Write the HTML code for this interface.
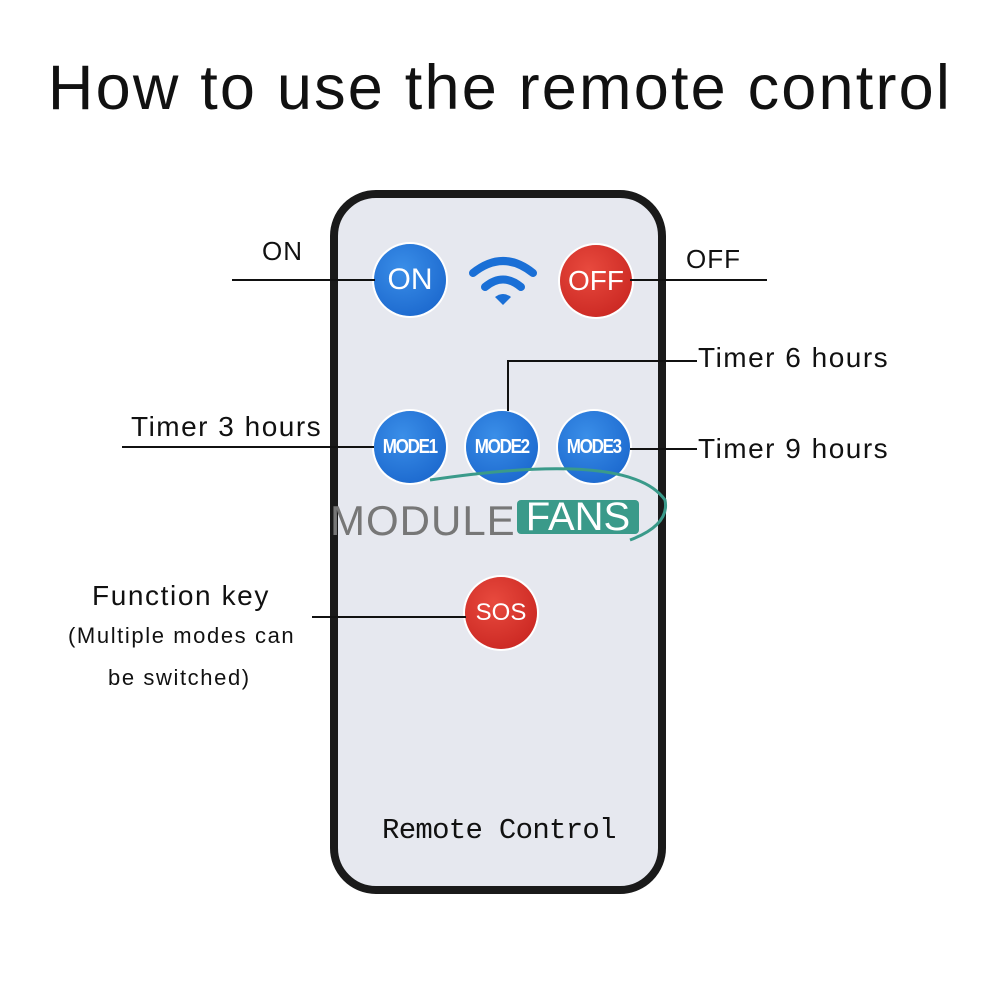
<!DOCTYPE html>
<html><head><style>
body{margin:0;width:1000px;height:1000px;background:#fff;position:relative;overflow:hidden;font-family:"Liberation Sans",sans-serif}
.t{position:absolute;color:#111;white-space:nowrap}
.l{position:absolute;background:#111}
.b{position:absolute;width:72px;height:72px;border-radius:50%;color:#fff;display:flex;align-items:center;justify-content:center;font-weight:bold;box-shadow:0 0 0 2px #fff}
.blue{background:radial-gradient(circle at 40% 35%,#3a8ee8,#1560c8)}
.red{background:radial-gradient(circle at 40% 35%,#e84a3e,#c4201c)}
.m{font-size:20px;letter-spacing:-1.5px;font-weight:bold;transform:scaleX(0.85)}
</style></head><body>
<div class="t" style="left:0;width:1000px;text-align:center;top:52px;font-size:63px;letter-spacing:2.2px">How to use the remote control</div>
<div style="position:absolute;left:330px;top:190px;width:320px;height:688px;border:8px solid #1a1a1a;border-radius:46px;background:#e6e8ef"></div>
<div class="b blue" style="left:374px;top:244px;font-size:30px;font-weight:normal">ON</div>
<div class="b red" style="left:560px;top:245px;font-size:28px;font-weight:normal">OFF</div>
<svg style="position:absolute;left:468px;top:255px" width="70" height="55" viewBox="0 0 70 55"><path d="M5 18 Q35 -6 65 18" stroke="#1a6fd6" stroke-width="8" fill="none" stroke-linecap="round"/><path d="M17 32 Q35 17 53 32" stroke="#1a6fd6" stroke-width="8" fill="none" stroke-linecap="round"/><path d="M27 42 L35 50 L43 42 Q35 36 27 42Z" fill="#1a6fd6"/></svg>
<div class="b blue" style="left:374px;top:411px"><span class="m">MODE1</span></div>
<div class="b blue" style="left:466px;top:411px"><span class="m">MODE2</span></div>
<div class="b blue" style="left:558px;top:411px"><span class="m">MODE3</span></div>
<div class="b red" style="left:465px;top:577px;font-size:24px;font-weight:normal">SOS</div>
<div class="t" style="left:330px;top:497px;font-size:42px;color:#777;letter-spacing:1px">MODULE</div>
<div style="position:absolute;left:517px;top:500px;width:122px;height:34px;background:#3a9a8a;border-radius:4px;color:#fff;font-size:40px;line-height:34px;text-align:center">FANS</div>
<svg style="position:absolute;left:330px;top:455px" width="350" height="100"><path d="M100 25 Q300 -5 335 45 Q340 70 300 85" stroke="#3a9a8a" stroke-width="3" fill="none"/></svg>
<div class="l" style="left:232px;top:279px;width:143px;height:2px"></div>
<div class="l" style="left:630px;top:279px;width:137px;height:2px"></div>
<div class="l" style="left:507px;top:360px;width:2px;height:51px"></div>
<div class="l" style="left:507px;top:360px;width:190px;height:2px"></div>
<div class="l" style="left:122px;top:446px;width:252px;height:2px"></div>
<div class="l" style="left:630px;top:448px;width:67px;height:2px"></div>
<div class="l" style="left:312px;top:616px;width:154px;height:2px"></div>
<div class="t" style="left:262px;top:236px;font-size:26px;letter-spacing:1px">ON</div>
<div class="t" style="left:686px;top:244px;font-size:26px;letter-spacing:1px">OFF</div>
<div class="t" style="left:698px;top:342px;font-size:28px;letter-spacing:1.5px">Timer 6 hours</div>
<div class="t" style="left:131px;top:411px;font-size:28px;letter-spacing:1.5px">Timer 3 hours</div>
<div class="t" style="left:698px;top:433px;font-size:28px;letter-spacing:1.5px">Timer 9 hours</div>
<div class="t" style="left:92px;top:580px;font-size:28px;letter-spacing:1.6px">Function key</div>
<div class="t" style="left:68px;top:623px;font-size:22px;letter-spacing:1.6px">(Multiple modes can</div>
<div class="t" style="left:108px;top:665px;font-size:22px;letter-spacing:1.6px">be switched)</div>
<div class="t" style="left:382px;top:814px;font-size:29px;font-family:'Liberation Mono',monospace;letter-spacing:-0.7px">Remote Control</div>
</body></html>
